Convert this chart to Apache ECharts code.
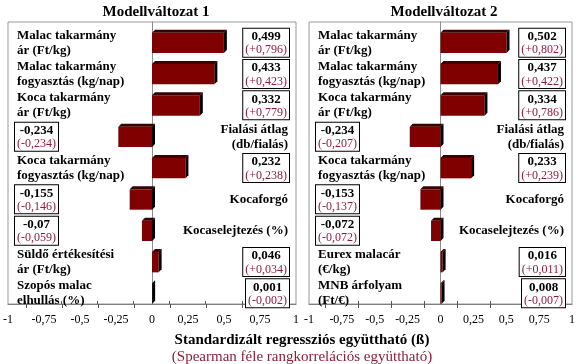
<!DOCTYPE html>
<html>
<head>
<meta charset="utf-8">
<script src="https://cdn.jsdelivr.net/npm/echarts@6/dist/echarts.min.js"></script>
<style>html,body{margin:0;padding:0;background:#fff}#c{width:578px;height:364px}</style>
</head>
<body>
<div id="c"></div>
<script>
// ---- data ----
const categories1 = ['Malac takarmány\nár (Ft/kg)', 'Malac takarmány\nfogyasztás (kg/nap)', 'Koca takarmány\nár (Ft/kg)', 'Fialási átlag\n(db/fialás)', 'Koca takarmány\nfogyasztás (kg/nap)', 'Kocaforgó', 'Kocaselejtezés (%)', 'Süldő értékesítési\nár (Ft/kg)', 'Szopós malac\nelhullás (%)'];
const beta1 = [0.499, 0.433, 0.332, -0.234, 0.232, -0.155, -0.07, 0.046, 0.001];
const spearman1 = [0.796, 0.423, 0.779, -0.234, 0.238, -0.146, -0.059, 0.034, -0.002];

const categories2 = ['Malac takarmány\nár (Ft/kg)', 'Malac takarmány\nfogyasztás (kg/nap)', 'Koca takarmány\nár (Ft/kg)', 'Fialási átlag\n(db/fialás)', 'Koca takarmány\nfogyasztás (kg/nap)', 'Kocaforgó', 'Kocaselejtezés (%)', 'Eurex malacár\n(€/kg)', 'MNB árfolyam\n(Ft/€)'];
const beta2 = [0.502, 0.437, 0.334, -0.234, 0.233, -0.153, -0.072, 0.016, 0.008];
const spearman2 = [0.802, 0.422, 0.786, -0.207, 0.239, -0.137, -0.072, 0.011, -0.007];

const axisMin = -1, axisMax = 1, axisStep = 0.25;
const titles = ['Modellváltozat 1', 'Modellváltozat 2'];
const xTitle = 'Standardizált regressziós együttható (ß)';
const xSubTitle = '(Spearman féle rangkorrelációs együttható)';

// ---- rendering ----
const FONT = "'Liberation Serif','Times New Roman',serif";
const RED = '#8a1f3d';
const fmtBeta = v => String(v).replace('.', ',');
const fmtSp = v => '(' + (v >= 0 ? '+' : '-') + Math.abs(v).toFixed(3).replace('.', ',') + ')';

function makeRender(cats, betas, sps) {
  return function (params, api) {
    const i = params.dataIndex;
    const v = api.value(0), idx = api.value(1);
    const band = api.size([0, 1])[1];
    const c0 = api.coord([0, idx]), c1 = api.coord([v, idx]);
    const cy = c0[1];
    const yt = cy - 0.16 * band, yb = cy + 0.49 * band;
    const xl = Math.min(c0[0], c1[0]), xr = Math.max(c0[0], c1[0]);
    const d = 3;
    const left = api.coord([axisMin, idx])[0], right = api.coord([axisMax, idx])[0];
    const ty = cy + 0.16 * band;
    const pos = v >= 0;
    return {
      type: 'group',
      children: [
        { type: 'rect', shape: { x: xl, y: yt, width: xr - xl, height: yb - yt }, style: { fill: '#800000' } },
        { type: 'polygon', shape: { points: [[xl, yt], [xr, yt], [xr + d, yt - d], [xl + d, yt - d]] }, style: { fill: '#3a0000' } },
        { type: 'polygon', shape: { points: [[xr, yt], [xr + d, yt - d], [xr + d, yb - d], [xr, yb]] }, style: { fill: '#000' } },
        {
          type: 'text', z2: 10,
          style: {
            x: pos ? left + 9 : right - 8, y: ty,
            text: cats[i], font: 'bold 13px ' + FONT, fill: '#000',
            align: pos ? 'left' : 'right', verticalAlign: 'middle', lineHeight: 15
          }
        },
        {
          type: 'text', z2: 10,
          style: {
            x: pos ? right - 7 : left + 7, y: ty,
            text: '{a|' + fmtBeta(betas[i]) + '}\n{b|' + fmtSp(sps[i]) + '}',
            rich: {
              a: { font: 'bold 13px ' + FONT, fill: '#000', lineHeight: 14, align: 'center' },
              b: { font: '12px ' + FONT, fill: RED, lineHeight: 13, align: 'center' }
            },
            align: pos ? 'right' : 'left', verticalAlign: 'middle',
            backgroundColor: '#fff', borderColor: '#000', borderWidth: 1, padding: [1, 2, 0, 2]
          }
        }
      ]
    };
  };
}

const grids = [
  { left: 7, top: 22, width: 289, height: 282 },
  { left: 309, top: 22, width: 263, height: 282 }
];

const option = {
  animation: false,
  title: [
    { text: titles[0], left: 151, top: 0, textAlign: 'center', textStyle: { fontFamily: FONT, fontSize: 15, fontWeight: 'bold', color: '#000' } },
    { text: titles[1], left: 439, top: 0, textAlign: 'center', textStyle: { fontFamily: FONT, fontSize: 15, fontWeight: 'bold', color: '#000' } },
    { text: xTitle, left: 297, top: 328, textAlign: 'center', textStyle: { fontFamily: FONT, fontSize: 15, fontWeight: 'bold', color: '#000' } },
    { text: xSubTitle, left: 297, top: 345, textAlign: 'center', textStyle: { fontFamily: FONT, fontSize: 15, fontWeight: 'normal', color: RED } }
  ],
  grid: [
    Object.assign({ show: true, borderColor: '#999', borderWidth: 1, backgroundColor: '#fff' }, grids[0]),
    Object.assign({ show: true, borderColor: '#999', borderWidth: 1, backgroundColor: '#fff' }, grids[1]),
    Object.assign({ show: false }, grids[0]),
    Object.assign({ show: false }, grids[1])
  ],
  xAxis: [0, 1, 2, 3].map(g => ({
    type: 'value', gridIndex: g, min: axisMin, max: axisMax, interval: axisStep,
    position: 'bottom',
    splitLine: { show: false },
    axisLine: { show: g < 2, onZero: false, lineStyle: { color: '#808080', width: 1 } },
    axisTick: { show: false, inside: g >= 2 },
    minorTick: { show: true, splitNumber: 2, length: g < 2 ? 4 : 3, lineStyle: { color: '#555', width: 1 } },
    axisLabel: {
      show: g < 2, margin: 10, fontFamily: FONT, fontSize: 12, color: '#000',
      formatter: v => fmtBeta(v)
    }
  })),
  yAxis: [0, 1, 2, 3].map(g => ({
    type: 'category', gridIndex: g, inverse: true,
    data: g % 2 === 0 ? categories1 : categories2,
    show: g < 2,
    axisLine: { show: true, onZero: true, lineStyle: { color: '#8c8c8c' } },
    axisTick: { show: false }, axisLabel: { show: false }, splitLine: { show: false }
  })),
  series: [
    {
      type: 'custom', xAxisIndex: 0, yAxisIndex: 0,
      encode: { x: 0, y: 1 },
      data: beta1.map((v, i) => [v, i]),
      renderItem: makeRender(categories1, beta1, spearman1)
    },
    {
      type: 'custom', xAxisIndex: 1, yAxisIndex: 1,
      encode: { x: 0, y: 1 },
      data: beta2.map((v, i) => [v, i]),
      renderItem: makeRender(categories2, beta2, spearman2)
    }
  ]
};

const chart = echarts.init(document.getElementById('c'), null, { renderer: 'canvas' });
chart.setOption(option);
</script>
</body>
</html>
